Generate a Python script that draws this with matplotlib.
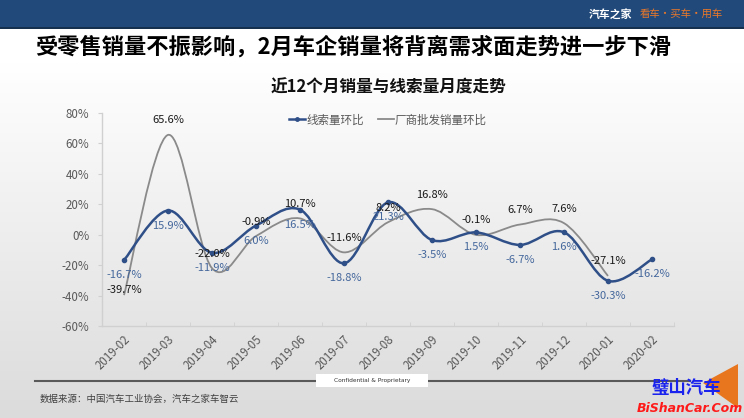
import numpy as np
import matplotlib
matplotlib.use("Agg")
import matplotlib.pyplot as plt
from matplotlib.path import Path
from matplotlib.patches import PathPatch, Rectangle, Polygon
from matplotlib.lines import Line2D

plt.rcParams['font.family'] = ['Noto Sans CJK SC', 'DejaVu Sans']

# ---------------- data ----------------
months = ["2019-02", "2019-03", "2019-04", "2019-05", "2019-06", "2019-07",
          "2019-08", "2019-09", "2019-10", "2019-11", "2019-12", "2020-01", "2020-02"]
leads_mom = [-16.7, 15.9, -11.9, 6.0, 16.5, -18.8, 21.3, -3.5, 1.5, -6.7, 1.6, -30.3, -16.2]
wholesale_mom = [-39.7, 65.6, -22.0, -0.9, 10.7, -11.6, 8.2, 16.8, -0.1, 6.7, 7.6, -27.1]
y_ticks = [-60, -40, -20, 0, 20, 40, 60, 80]

series_names = ["线索量环比", "厂商批发销量环比"]
title = "受零售销量不振影响，2月车企销量将背离需求面走势进一步下滑"
subtitle = "近12个月销量与线索量月度走势"
source = "数据来源：中国汽车工业协会，汽车之家车智云"

BLUE = "#2f4f88"
BLUE_TXT = "#44679c"
GRAY = "#8a8a8a"

W, H = 744, 418
fig = plt.figure(figsize=(W / 100, H / 100), dpi=100)


def fx(px):
    return px / W


def fy(py):
    return 1 - py / H


# background gradient
bg = fig.add_axes([0, 0, 1, 1], zorder=-10)
bg.set_axis_off()
grad = np.linspace(0, 1, 256)
cols = np.ones((256, 1, 3))
top = np.array([1.0, 1.0, 1.0])
bot = np.array([0.86, 0.86, 0.86])
g = np.clip((grad - 0.15) / 0.85, 0, 1)[:, None]
cols[:, 0, :] = top * (1 - g) + bot * g
bg.imshow(cols, aspect='auto', extent=[0, 1, 0, 1], origin='upper')
bg.set_xlim(0, 1)
bg.set_ylim(0, 1)

# header bar
fig.patches.append(Rectangle((0, fy(27)), 1, 27 / H, transform=fig.transFigure,
                             facecolor="#21497a", edgecolor='none', zorder=-5))
fig.patches.append(Rectangle((0, fy(28.5)), 1, 1.5 / H, transform=fig.transFigure,
                             facecolor="#15304f", edgecolor='none', zorder=-4))
fig.text(fx(632), fy(14), "汽车之家", color="white", fontsize=7.8, fontweight='bold',
         ha='right', va='center')
fig.text(fx(640), fy(14), "看车·买车·用车", color="#e8782a", fontsize=7.5,
         ha='left', va='center')

# titles
fig.text(fx(35), fy(47), title, fontsize=16, fontweight='bold', color='black',
         ha='left', va='center')
fig.text(fx(388), fy(88), subtitle, fontsize=12, fontweight='bold', color='#111111',
         ha='center', va='center')

# main axes
ax = fig.add_axes([fx(102), fy(326), fx(674) - fx(102), (326 - 113) / H])
ax.patch.set_alpha(0)
ax.set_xlim(-0.5, len(months) - 0.5)
ax.set_ylim(-60, 80)
ax.set_yticks(y_ticks)
ax.set_yticklabels([f"{v}%" for v in y_ticks], color="#595959", fontsize=8.3)
ax.set_xticks(range(len(months)))
ax.set_xticklabels(months, rotation=45, ha='right', va='top', rotation_mode='anchor',
                   color="#595959", fontsize=8.3)
ax.tick_params(axis='x', length=0, pad=5)
ax.tick_params(axis='y', length=3, color="#d0d0d0", pad=6)
for s in ['top', 'right']:
    ax.spines[s].set_visible(False)
ax.spines['left'].set_color("#d0d0d0")
ax.spines['bottom'].set_color("#d0d0d0")
ax.spines['bottom'].set_linewidth(1.0)
ax.spines['left'].set_linewidth(1.0)
# minor ticks between categories on x axis
ax.set_xticks(np.arange(-0.5, len(months), 1.0), minor=True)
ax.tick_params(axis='x', which='minor', length=3, color="#d0d0d0", direction='in')


def smooth_path(xs, ys):
    pts = np.column_stack([xs, ys]).astype(float)
    n = len(pts)
    verts = [tuple(pts[0])]
    codes = [Path.MOVETO]
    for i in range(n - 1):
        p0 = pts[i - 1] if i > 0 else pts[i]
        p1 = pts[i]
        p2 = pts[i + 1]
        p3 = pts[i + 2] if i + 2 < n else pts[i + 1]
        c1 = p1 + (p2 - p0) / 6.0
        c2 = p2 - (p3 - p1) / 6.0
        verts += [tuple(c1), tuple(c2), tuple(p2)]
        codes += [Path.CURVE4] * 3
    return Path(verts, codes)


xg = np.arange(len(wholesale_mom))
xb = np.arange(len(leads_mom))
ax.add_patch(PathPatch(smooth_path(xg, wholesale_mom), facecolor='none',
                       edgecolor=GRAY, lw=1.3, zorder=3))
ax.add_patch(PathPatch(smooth_path(xb, leads_mom), facecolor='none',
                       edgecolor=BLUE, lw=1.8, zorder=4))
ax.plot(xb, leads_mom, linestyle='none', marker='o', ms=3, color=BLUE, zorder=5)

# data labels
for i, v in enumerate(wholesale_mom):
    dy = 3.6 if i == 0 else 10.5
    ax.annotate(f"{v:.1f}%", (i, v), xytext=(0, dy), textcoords='offset points',
                ha='center', va='center', fontsize=8.0, color="#1a1a1a", zorder=6)
for i, v in enumerate(leads_mom):
    ax.annotate(f"{v:.1f}%", (i, v), xytext=(0, -10.8), textcoords='offset points',
                ha='center', va='center', fontsize=8.0, color=BLUE_TXT, zorder=6)

# legend
handles = [Line2D([], [], color=BLUE, lw=1.8, marker='o', ms=2.5),
           Line2D([], [], color=GRAY, lw=1.3)]
leg = fig.legend(handles, series_names, loc='center', bbox_to_anchor=(fx(388), fy(120)),
                 ncol=2, frameon=False, fontsize=8.3, handlelength=1.4,
                 handletextpad=0.1, columnspacing=1.2, labelcolor="#595959")

# bottom line + confidential box
fig.lines.append(Line2D([fx(35), fx(690)], [fy(381), fy(381)], transform=fig.transFigure,
                        color="#5a5a5a", lw=1.5))
fig.patches.append(Rectangle((fx(316), fy(387)), (428 - 316) / W, 13 / H,
                             transform=fig.transFigure, facecolor='white',
                             edgecolor='none', zorder=3))
fig.text(fx(372), fy(380.5), "Confidential & Proprietary", fontsize=4.2, color="#333333",
         ha='center', va='center', zorder=4, family='DejaVu Sans')
fig.text(fx(40), fy(399), source, fontsize=6.8, color="#404040", ha='left', va='center')

# watermark
fig.patches.append(Polygon([(fx(703), fy(383)), (fx(738), fy(364)), (fx(738), fy(408))],
                           closed=True, transform=fig.transFigure, facecolor="#e8761e",
                           edgecolor='none', zorder=5))
fig.text(fx(686), fy(388), "璧山汽车", fontsize=12.5, color="#1a22ee", fontweight='bold',
         style='italic', ha='center', va='center', zorder=6)
fig.text(fx(690), fy(408), "BiShanCar.Com", fontsize=9, color="#ff1a1a", fontweight='bold',
         style='italic', ha='center', va='center', zorder=6, family='DejaVu Sans')

fig.savefig("out.png", dpi=100)
